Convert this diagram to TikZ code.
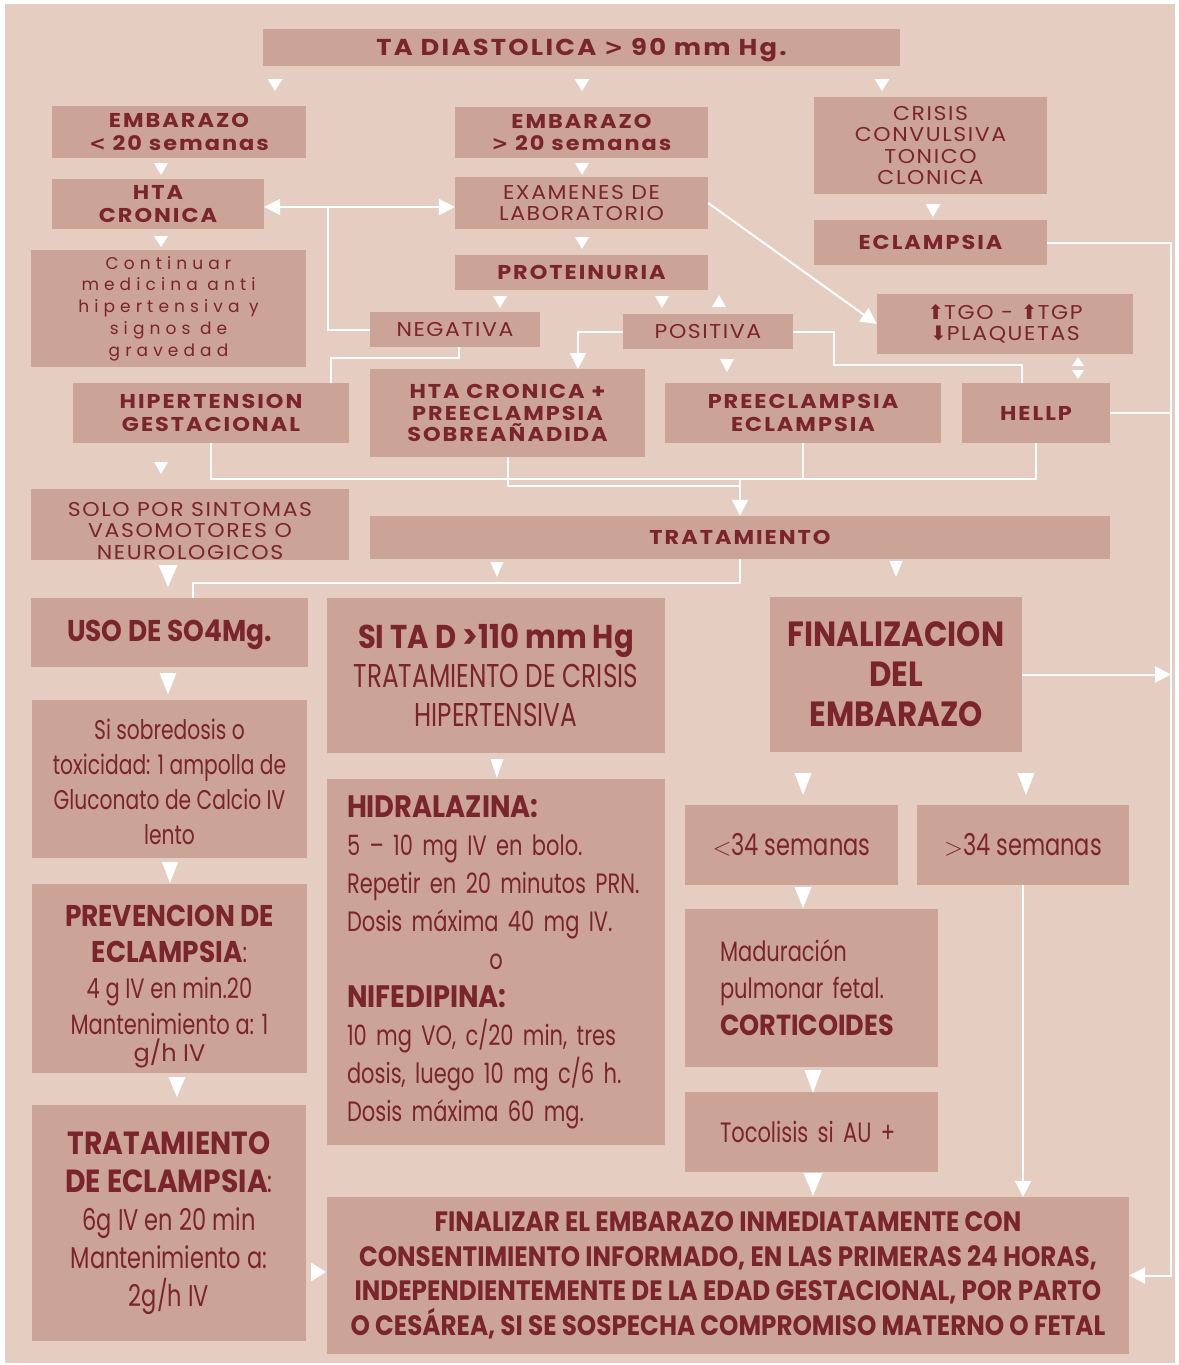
\documentclass[tikz,border=0pt]{standalone}
\usepackage{fontspec}
\setmainfont{Poppins}
\newfontfamily\gth[FakeStretch=1.1, LetterSpace=8]{Poppins}
\newfontfamily\gtb[FakeStretch=1.12, LetterSpace=10]{Poppins}
\newfontfamily\gthw[LetterSpace=30]{Poppins}
\newfontfamily\cnd[FakeStretch=0.75]{Poppins}
\newfontfamily\cnb[FakeStretch=0.88]{Poppins}
\newfontfamily\djv{DejaVu Sans}
\usetikzlibrary{arrows.meta}

\definecolor{bgc}{RGB}{229,205,194}
\definecolor{boxc}{RGB}{204,163,151}
\definecolor{txtc}{RGB}{122,36,44}

\tikzset{
  box/.style={fill=boxc, text=txtc, align=center, inner sep=0pt},
  hb/.style={font=\gtb\bfseries\fontsize{20}{22.5}\selectfont},
  hr/.style={font=\gth\fontsize{20}{21.5}\selectfont},
  wline/.style={draw=white, line width=2pt},
  warrow/.style={wline, -{Triangle[width=16pt,length=16pt]}},
}

\begin{document}
\begin{tikzpicture}[x=1pt,y=-1pt]
  \useasboundingbox (0,0) rectangle (1178,1365);
  \fill[bgc] (5,4) rectangle (1175,1363);

  % upper part
  \node[box, font=\gtb\bfseries\fontsize{23}{26}\selectfont, minimum width=637, minimum height=37] (ta) at (581.5,47.5) {\rule{0pt}{22pt}TA DIASTOLICA {\djv\bfseries >} 90 mm Hg.};
  \node[box, hb, minimum width=254, minimum height=52] (emb1) at (179,132) {EMBARAZO\\{\djv\bfseries <} 20 semanas};
  \node[box, hb, minimum width=253, minimum height=51] (emb2) at (581.5,132.5) {EMBARAZO\\{\djv\bfseries >} 20 semanas};
  \node[box, hr, minimum width=233, minimum height=97] (crisis) at (930.5,145.5) {CRISIS\\CONVULSIVA\\TONICO\\CLONICA};
  \node[box, hb, minimum width=233, minimum height=45] (eclam) at (930.5,242.5) {ECLAMPSIA};
  \node[box, hb, minimum width=212, minimum height=50] (htacr) at (158,204) {HTA\\CRONICA};
  \node[box, hr, minimum width=253, minimum height=52] (exam) at (581.5,203) {EXAMENES DE\\LABORATORIO};
  \node[box, font=\gthw\fontsize{17}{21.7}\selectfont, minimum width=275, minimum height=117] (cont) at (168.5,308.5) {Continuar\\medicina anti\\hipertensiva y\\signos de\\gravedad};
  \node[box, hb, minimum width=253, minimum height=35] (prot) at (581.5,272.5) {PROTEINURIA};
  \node[box, hr, minimum width=170, minimum height=35] (neg) at (455,329.5) {NEGATIVA};
  \node[box, hr, minimum width=170, minimum height=35] (pos) at (708,331.5) {POSITIVA};
  \node[box, hr, minimum width=256, minimum height=60] (tgo) at (1005,324) {{\djv ⬆}TGO - {\djv ⬆}TGP\\{\djv ⬇}PLAQUETAS};
  \node[box, hb, minimum width=276, minimum height=60] (hipg) at (211,413) {HIPERTENSION\\GESTACIONAL};
  \node[box, font=\gtb\bfseries\fontsize{20}{21.5}\selectfont, minimum width=275, minimum height=88] (htap) at (507.5,413) {HTA CRONICA +\\PREECLAMPSIA\\SOBREAÑADIDA};
  \node[box, hb, minimum width=276, minimum height=60] (pree) at (803,413) {PREECLAMPSIA\\ECLAMPSIA};
  \node[box, hb, minimum width=148, minimum height=60] (hellp) at (1036,413) {HELLP};
  \node[box, hr, minimum width=318, minimum height=69] (solo) at (190,524.5) {\rule{0pt}{27pt}SOLO POR SINTOMAS\\VASOMOTORES O\\NEUROLOGICOS};
  \node[box, hb, minimum width=740, minimum height=43] (trat) at (740,537.5) {TRATAMIENTO};

  % lower part
  \node[box, font=\cnb\bfseries\fontsize{30}{36}\selectfont, minimum width=277, minimum height=69] (uso) at (169.5,632.5) {\rule{0pt}{27pt}USO DE SO4Mg.};
  \node[box, font=\cnd\fontsize{33}{39}\selectfont, minimum width=338, minimum height=155] (sitad) at (496,675.5) {{\cnb\bfseries SI TA D >110 mm Hg}\\TRATAMIENTO DE CRISIS\\HIPERTENSIVA};
  \node[box, font=\cnb\bfseries\fontsize{35}{40}\selectfont, minimum width=252, minimum height=155] (finz) at (896,674.5) {FINALIZACION\\DEL\\EMBARAZO};
  \node[box, font=\cnd\fontsize{27}{35}\selectfont, minimum width=275, minimum height=158] (sobre) at (169.5,779) {\rule{0pt}{27pt}Si sobredosis o\\toxicidad: 1 ampolla de\\Gluconato de Calcio IV\\lento};
  \node[box, font=\cnd\fontsize{28}{36}\selectfont, minimum width=275, minimum height=189] (prev) at (169.5,978.5) {{\cnb\bfseries\fontsize{30}{36}\selectfont\rule{0pt}{38pt}PREVENCION DE}\\{\cnb\bfseries\fontsize{30}{36}\selectfont ECLAMPSIA}:\\4 g IV en min.20\\Mantenimiento a: 1\\[-9pt]{\rmfamily\fontsize{24}{28}\selectfont g/h IV}};
  \node[box, font=\cnd\fontsize{30}{38}\selectfont, minimum width=274, minimum height=236] (treclam) at (169,1223) {{\cnb\bfseries\fontsize{32}{41}\selectfont TRATAMIENTO}\\{\cnb\bfseries\fontsize{32}{41}\selectfont DE ECLAMPSIA}:\\6g IV en 20 min\\Mantenimiento a:\\2g/h IV};
  \node[box, font=\cnd\fontsize{28}{38}\selectfont, align=left, text width=298, minimum width=338, minimum height=366] (hidra) at (496,962) {{\cnb\bfseries\fontsize{31}{38}\selectfont HIDRALAZINA:}\\5 – 10 mg IV en bolo.\\Repetir en 20 minutos PRN.\\Dosis máxima 40 mg IV.\\\makebox[\linewidth]{o}\\{\cnb\bfseries\fontsize{31}{38}\selectfont NIFEDIPINA:}\\\makebox[\linewidth][s]{10 mg VO, c/20 min, tres}\\dosis, luego 10 mg c/6 h.\\Dosis máxima 60 mg.};
  \node[box, font=\cnd\fontsize{30}{34}\selectfont, minimum width=213, minimum height=80] (m34) at (791.5,845) {$<$34 semanas};
  \node[box, font=\cnd\fontsize{30}{34}\selectfont, minimum width=212, minimum height=80] (p34) at (1023,845) {$>$34 semanas};
  \node[box, font=\cnd\fontsize{28}{37}\selectfont, align=left, text width=183, minimum width=253, minimum height=158] (madur) at (811.5,988) {Maduración\\pulmonar fetal.\\{\cnb\bfseries\fontsize{29}{37}\selectfont CORTICOIDES}};
  \node[box, font=\cnd\fontsize{28}{34}\selectfont, align=left, text width=183, minimum width=253, minimum height=80] (toco) at (811.5,1132) {Tocolisis si AU +};
  \node[box, font=\cnb\bfseries\fontsize{28}{34.5}\selectfont, minimum width=802, minimum height=157] (final) at (728,1275.5) {FINALIZAR EL EMBARAZO INMEDIATAMENTE CON\\CONSENTIMIENTO INFORMADO, EN LAS PRIMERAS 24 HORAS,\\INDEPENDIENTEMENTE DE LA EDAD GESTACIONAL, POR PARTO\\O CESÁREA, SI SE SOSPECHA COMPROMISO MATERNO O FETAL};

  % free arrow heads
  \foreach \x/\y/\w/\h in {275/79/15/12, 582/79/15/12, 882/79/15/12,
      161/163/14/12, 582/163/14/12, 161/236/14/11, 582/237/14/12,
      933/204/15/13, 500/296/14/12, 662/296/14/12, 727/359/14/13,
      1078/370/12/9, 161/462/14/12, 168/565/19/22, 497/562/13/15,
      896/561/13/16, 168/673/17/21, 170/862/16/21, 177/1077/17/20,
      497/759/13/19, 803/773/17/22, 1026/773/17/22, 803/887/17/21,
      813/1070/17/23, 813/1173/19/23}
    \fill[white] (\x-\w/2,\y) -- (\x+\w/2,\y) -- (\x,\y+\h) -- cycle;
  \foreach \x/\y/\w/\h in {719/295/14/12, 1078/357/12/9}
    \fill[white] (\x-\w/2,\y+\h) -- (\x+\w/2,\y+\h) -- (\x,\y) -- cycle;
  \fill[white] (311,1262.5) -- (311,1281.5) -- (326,1272) -- cycle;

  % connectors
  \coordinate (jn) at (328,207);
  \draw[wline] (neg.west) -| (jn);
  \draw[warrow] (jn) -- (jn -| htacr.east);
  \draw[warrow] (jn) -- (jn -| exam.west);
  \coordinate (n1) at (459,358);
  \coordinate (n2) at (331,383);
  \draw[wline] (neg.south -| n1) -- (n1) -| (n2);
  \draw[warrow] (exam.east) -- (tgo.west);
  \coordinate (a1) at (578,369);
  \draw[warrow] (pos.west) -| (a1);
  \coordinate (p1) at (834,365);
  \coordinate (p2) at (1022,383);
  \draw[wline] (pos.east) -| (p1) -| (p2);
  \coordinate (bus) at (740,479);
  \coordinate (bus2) at (740,486);
  \draw[wline] (hipg.south) |- (bus) -| (hellp.south);
  \draw[wline] (pree.south) -- (pree.south |- bus);
  \draw[wline] (htap.south) |- (bus2);
  \draw[warrow] (bus) -- (trat.north);
  \coordinate (u1) at (193,583);
  \draw[wline] (trat.south) |- (u1) -- (u1 |- uso.north);
  \coordinate (rb) at (1171,1275.5);
  \draw[warrow] (eclam.east) -| (rb) -- (final.east);
  \draw[wline] (hellp.east) -- (hellp.east -| rb);
  \draw[warrow] (finz.east) -- (finz.east -| rb);
  \draw[warrow] (p34.south) -- (p34.south |- final.north);
\end{tikzpicture}
\end{document}
